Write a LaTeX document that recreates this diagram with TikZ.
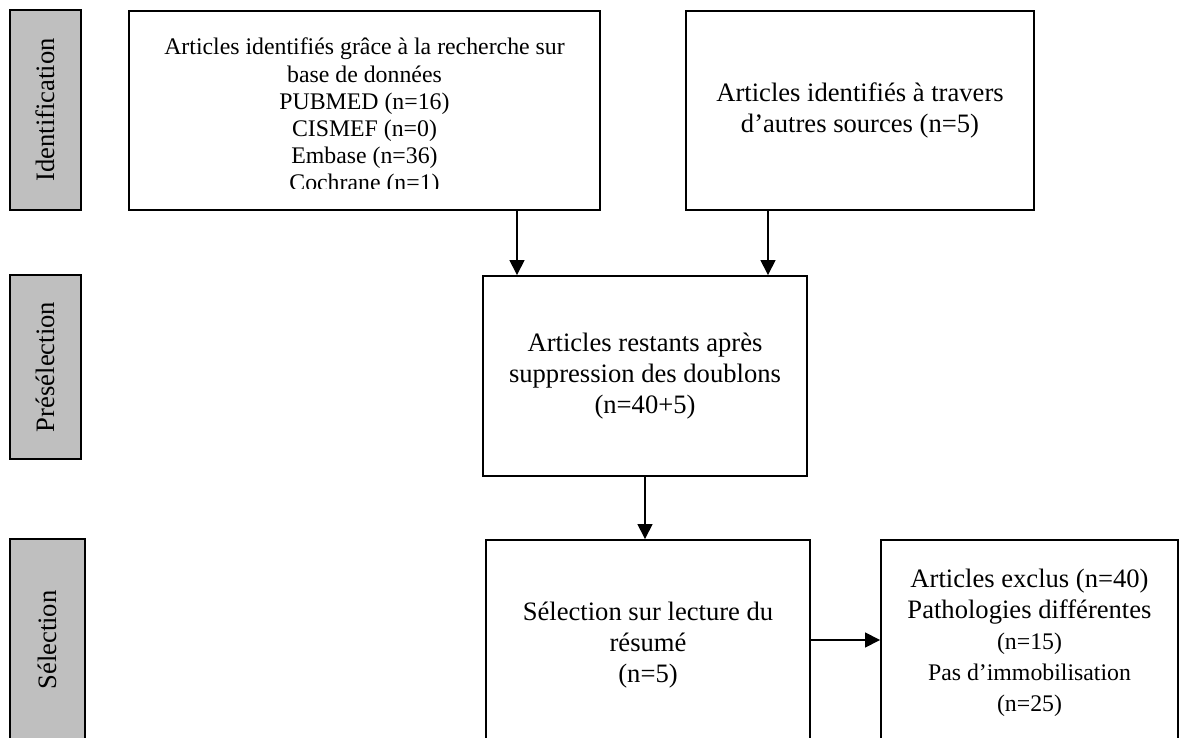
\documentclass[tikz,border=0pt]{standalone}
\usepackage{fontspec}
\setmainfont{Liberation Serif}
\usetikzlibrary{arrows.meta}
\definecolor{lblgray}{RGB}{191,191,191}
\begin{document}
\begin{tikzpicture}[x=1pt,y=-1pt,
  box/.style={draw, line width=1.9pt, align=center, inner sep=0pt, font=\fontsize{26.6}{31}\selectfont},
  lbl/.style={draw, line width=1.5pt, fill=lblgray, rotate=90, inner sep=0pt, font=\fontsize{26.6}{31}\selectfont},
  arr/.style={line width=1.5pt, -{Triangle[length=15pt,width=15pt]}},
  smalltxt/.style={align=center, inner sep=0pt, font=\fontsize{23.8}{27.2}\selectfont}]
\useasboundingbox (0,0) rectangle (1179,738);
\clip (0,0) rectangle (1179,738);
% phase labels
\node[lbl, minimum width=200pt, minimum height=71pt] (ident) at (45.5,110) {Identification};
\node[lbl, minimum width=184pt, minimum height=71pt] (presel) at (45.5,367) {Présélection};
\node[lbl, minimum width=202pt, minimum height=75pt] (sel) at (47.5,640) {Sélection};
% boxes
\node[box, minimum width=471pt, minimum height=199pt] (b1) at (364.5,110.5) {};
\begin{scope}
\clip (129,11) rectangle (600,189);
\node[smalltxt, anchor=north] (b1t) at (364.5,38) {Articles identifiés grâce à la recherche sur\\base de données\\PUBMED (n=16)\\CISMEF (n=0)\\Embase (n=36)\\Cochrane (n=1)};
\end{scope}
\node[box, minimum width=348pt, minimum height=199pt] (b2) at (860,110.5) {Articles identifiés à travers\\d’autres sources (n=5)};
\node[box, minimum width=324pt, minimum height=200pt] (b3) at (645,376) {Articles restants après\\suppression des doublons\\(n=40+5)};
\node[box, minimum width=324pt, minimum height=210pt] (b4) at (648,645) {Sélection sur lecture du\\résumé\\(n=5)};
\node[box, minimum width=297pt, minimum height=206pt] (b5) at (1029.5,643) {Articles exclus (n=40)\\Pathologies différentes\\{\fontsize{23.8}{28}\selectfont (n=15)}\\{\fontsize{23.8}{28}\selectfont Pas d’immobilisation}\\{\fontsize{23.8}{28}\selectfont (n=25)}};
% connectors
\draw[arr] ([xshift=152.5pt]b1.south) -- ([xshift=152.5pt]b1.south |- b3.north);
\draw[arr] ([xshift=-92pt]b2.south) -- ([xshift=-92pt]b2.south |- b3.north);
\draw[arr] (b3.south) -- (b3.south |- b4.north);
\draw[arr] ([yshift=5pt]b4.east) -- ([yshift=5pt]b4.east -| b5.west);
\end{tikzpicture}
\end{document}
